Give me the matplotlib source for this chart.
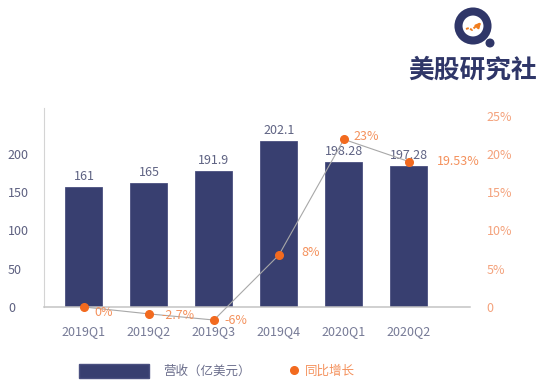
import numpy as np
import matplotlib
matplotlib.use('Agg')
import matplotlib.pyplot as plt
from matplotlib.patches import Patch, Circle, FancyArrowPatch
from matplotlib.lines import Line2D

plt.rcParams['font.family'] = ['Noto Sans CJK SC', 'DejaVu Sans']

# données
quarters = ['2019Q1', '2019Q2', '2019Q3', '2019Q4', '2020Q1', '2020Q2']
revenue_bar = [157, 161.5, 177.5, 216.5, 190, 184.5]      # hauteur des barres
revenue_lbl = ['161', '165', '191.9', '202.1', '198.28', '197.28']
growth_pt = [0, -0.9, -1.7, 6.8, 21.9, 19.0]                # position des points (%)
growth_lbl = ['0%', '-2.7%', '-6%', '8%', '23%', '19.53%']
lbl_offset_px = [(10, -6), (12, -2), (10, 0), (22, 2), (10, 3), (28, 0)]

navy = '#383f70'
orange = '#f26a1f'
orange_lt = '#f4a27c'

W, H = 550, 384
fig = plt.figure(figsize=(5.5, 3.84), dpi=100)
ax = fig.add_axes([44 / W, 1 - 307 / H, 426 / W, 199 / H])
x = np.arange(len(quarters))

ax.bar(x, revenue_bar, width=0.57, color=navy, edgecolor='#4a5080', linewidth=0.6, zorder=2)
for xi, h, t in zip(x, revenue_bar, revenue_lbl):
    ax.annotate(t, (xi, h), xytext=(0, 7.5), textcoords='offset points',
                ha='center', va='center', fontsize=9, color='#5f6383')

ax.set_xlim(-0.615, 5.94)
ax.set_ylim(0, 260)
ax.set_yticks([0, 50, 100, 150, 200])
ax.set_xticks(x)
ax.set_xticklabels(quarters, fontsize=9, color='#767a96')
ax.tick_params(axis='x', length=0, pad=13)
ax.tick_params(axis='y', length=0, pad=26, labelsize=9, labelcolor='#5d6080')
for lab in ax.get_yticklabels():
    lab.set_horizontalalignment('left')
for s in ['top', 'right']:
    ax.spines[s].set_visible(False)
ax.spines['left'].set_color('#d4d4d4')
ax.spines['bottom'].set_color('#c4c4c4')
ax.spines['bottom'].set_linewidth(1.1)

ax2 = ax.twinx()
ax2.set_ylim(0, 26)
ax2.set_yticks([0, 5, 10, 15, 20, 25])
ax2.set_yticklabels(['0', '5%', '10%', '15%', '20%', '25%'])
ax2.tick_params(axis='y', length=0, pad=12, labelsize=9, labelcolor=orange_lt)
for s in ['top', 'right', 'left', 'bottom']:
    ax2.spines[s].set_visible(False)
ax2.plot(x, growth_pt, color='#a8a8a8', lw=0.8, marker='o', ms=5.5,
         mfc=orange, mec=orange, clip_on=False, zorder=3)
for xi, g, t, (dx, dy) in zip(x, growth_pt, growth_lbl, lbl_offset_px):
    ax2.annotate(t, (xi, g), xytext=(dx * 0.72, dy * 0.72), textcoords='offset points',
                 ha='left', va='center', fontsize=9, color='#f4915c', annotation_clip=False)

# légende
fig.legend(handles=[Patch(facecolor=navy, edgecolor='#4a5080')], labels=['营收（亿美元）'],
           loc='center left', bbox_to_anchor=(79 / W, 1 - 371 / H), frameon=False,
           fontsize=9, handlelength=5.6, handleheight=1.3, handletextpad=1.1, borderpad=0,
           borderaxespad=0, labelcolor='#6b6e8c')
fig.legend(handles=[Line2D([], [], ls='none', marker='o', ms=5.5, mfc=orange, mec=orange)],
           labels=['同比增长'], loc='center left', bbox_to_anchor=(289 / W, 1 - 371 / H),
           frameon=False, fontsize=9, handlelength=0.8, handletextpad=0.5, borderpad=0,
           borderaxespad=0, labelcolor='#f4915c')

# logo
lg = fig.add_axes([445 / W, 1 - 58 / H, 60 / W, 58 / H])
lg.set_xlim(0, 60)
lg.set_ylim(58, 0)
lg.axis('off')
lg.add_patch(Circle((28, 26), 14.5, fill=False, ec='#2f3668', lw=5.8))
lg.add_patch(Circle((45, 43), 3.8, color='#2f3668'))
lg.plot([21, 24, 27, 30, 32], [29, 28, 30, 27, 28], color='#f07d1e', lw=1.4, ls=(0, (1.5, 0.8)))
lg.add_patch(FancyArrowPatch((31, 28), (38, 20), arrowstyle='-|>', mutation_scale=7,
                             color='#f07d1e', lw=1.6))
fig.text(473 / W, 1 - 70 / H, '美股研究社', ha='center', va='center', fontsize=18.5,
         fontweight='bold', color='#2f3668')

plt.savefig('out.png', dpi=100)
